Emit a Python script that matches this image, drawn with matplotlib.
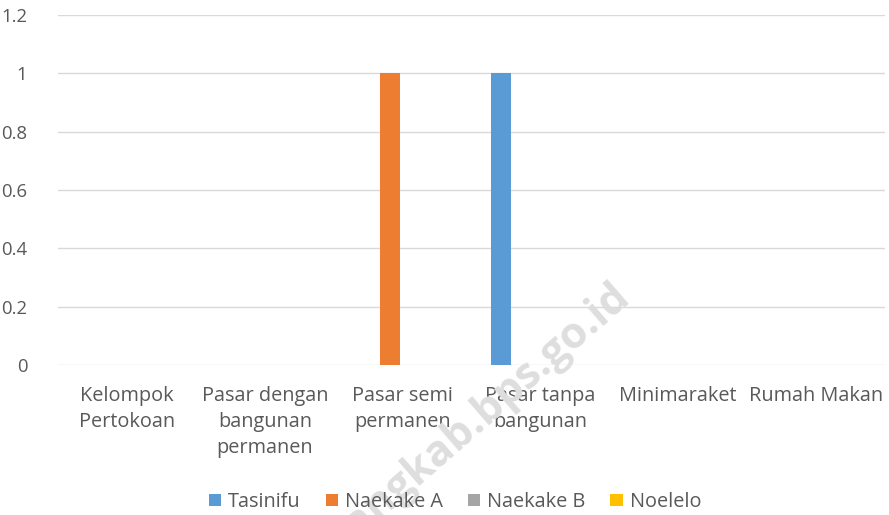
import matplotlib.pyplot as plt
import numpy as np

# data
categories = ["Kelompok\nPertokoan", "Pasar dengan\nbangunan\npermanen", "Pasar semi\npermanen",
              "Pasar tanpa\nbangunan", "Minimaraket", "Rumah Makan"]
series_names = ["Tasinifu", "Naekake A", "Naekake B", "Noelelo"]
tasinifu = [0, 0, 0, 1, 0, 0]
naekake_a = [0, 0, 1, 0, 0, 0]
naekake_b = [0, 0, 0, 0, 0, 0]
noelelo = [0, 0, 0, 0, 0, 0]
colors = ["#5b9bd5", "#ed7d31", "#a5a5a5", "#ffc000"]

plt.rcParams['font.family'] = ['Open Sans', 'DejaVu Sans']

fig = plt.figure(figsize=(8.89, 5.15), dpi=100)
ax = fig.add_axes([58/889, 150/515, 827/889, 350/515])

# faint watermark behind everything
fig.text(624/889, 1 - 290/515, "kupangkab.bps.go.id", rotation=41, rotation_mode='anchor',
         fontsize=31, fontweight='bold', color='#dedede', ha='right', va='center', zorder=0)
ax.patch.set_alpha(0)

x = np.arange(len(categories))
step = 0.189
width = 0.145
for i, vals in enumerate([tasinifu, naekake_a, naekake_b, noelelo]):
    ax.bar(x + (i - 1.5) * step, vals, width, color=colors[i], label=series_names[i], zorder=3)

ax.set_xlim(-0.5, len(categories) - 0.5)
ax.set_ylim(0, 1.2)
ax.set_yticks([0, 0.2, 0.4, 0.6, 0.8, 1.0, 1.2])
ax.set_yticklabels(["0", "0.2", "0.4", "0.6", "0.8", "1", "1.2"])
ax.set_xticks(x)
ax.set_xticklabels(categories, linespacing=1.4, va='top')
ax.tick_params(axis='x', length=0, labelsize=14.3, colors='#595959', pad=15)
ax.tick_params(axis='y', length=0, labelsize=13.3, colors='#595959', pad=22)
ax.grid(axis='y', color='#d9d9d9', linewidth=1, zorder=0)
for s in ax.spines.values():
    s.set_visible(False)

leg = fig.legend(loc='center', bbox_to_anchor=(455/889, 13/515), ncol=4, frameon=False,
                 handlelength=0.62, handleheight=0.62, handletextpad=0.35, columnspacing=1.25,
                 fontsize=14.3)
for t in leg.get_texts():
    t.set_color('#595959')

fig.savefig("out.png", dpi=100)
